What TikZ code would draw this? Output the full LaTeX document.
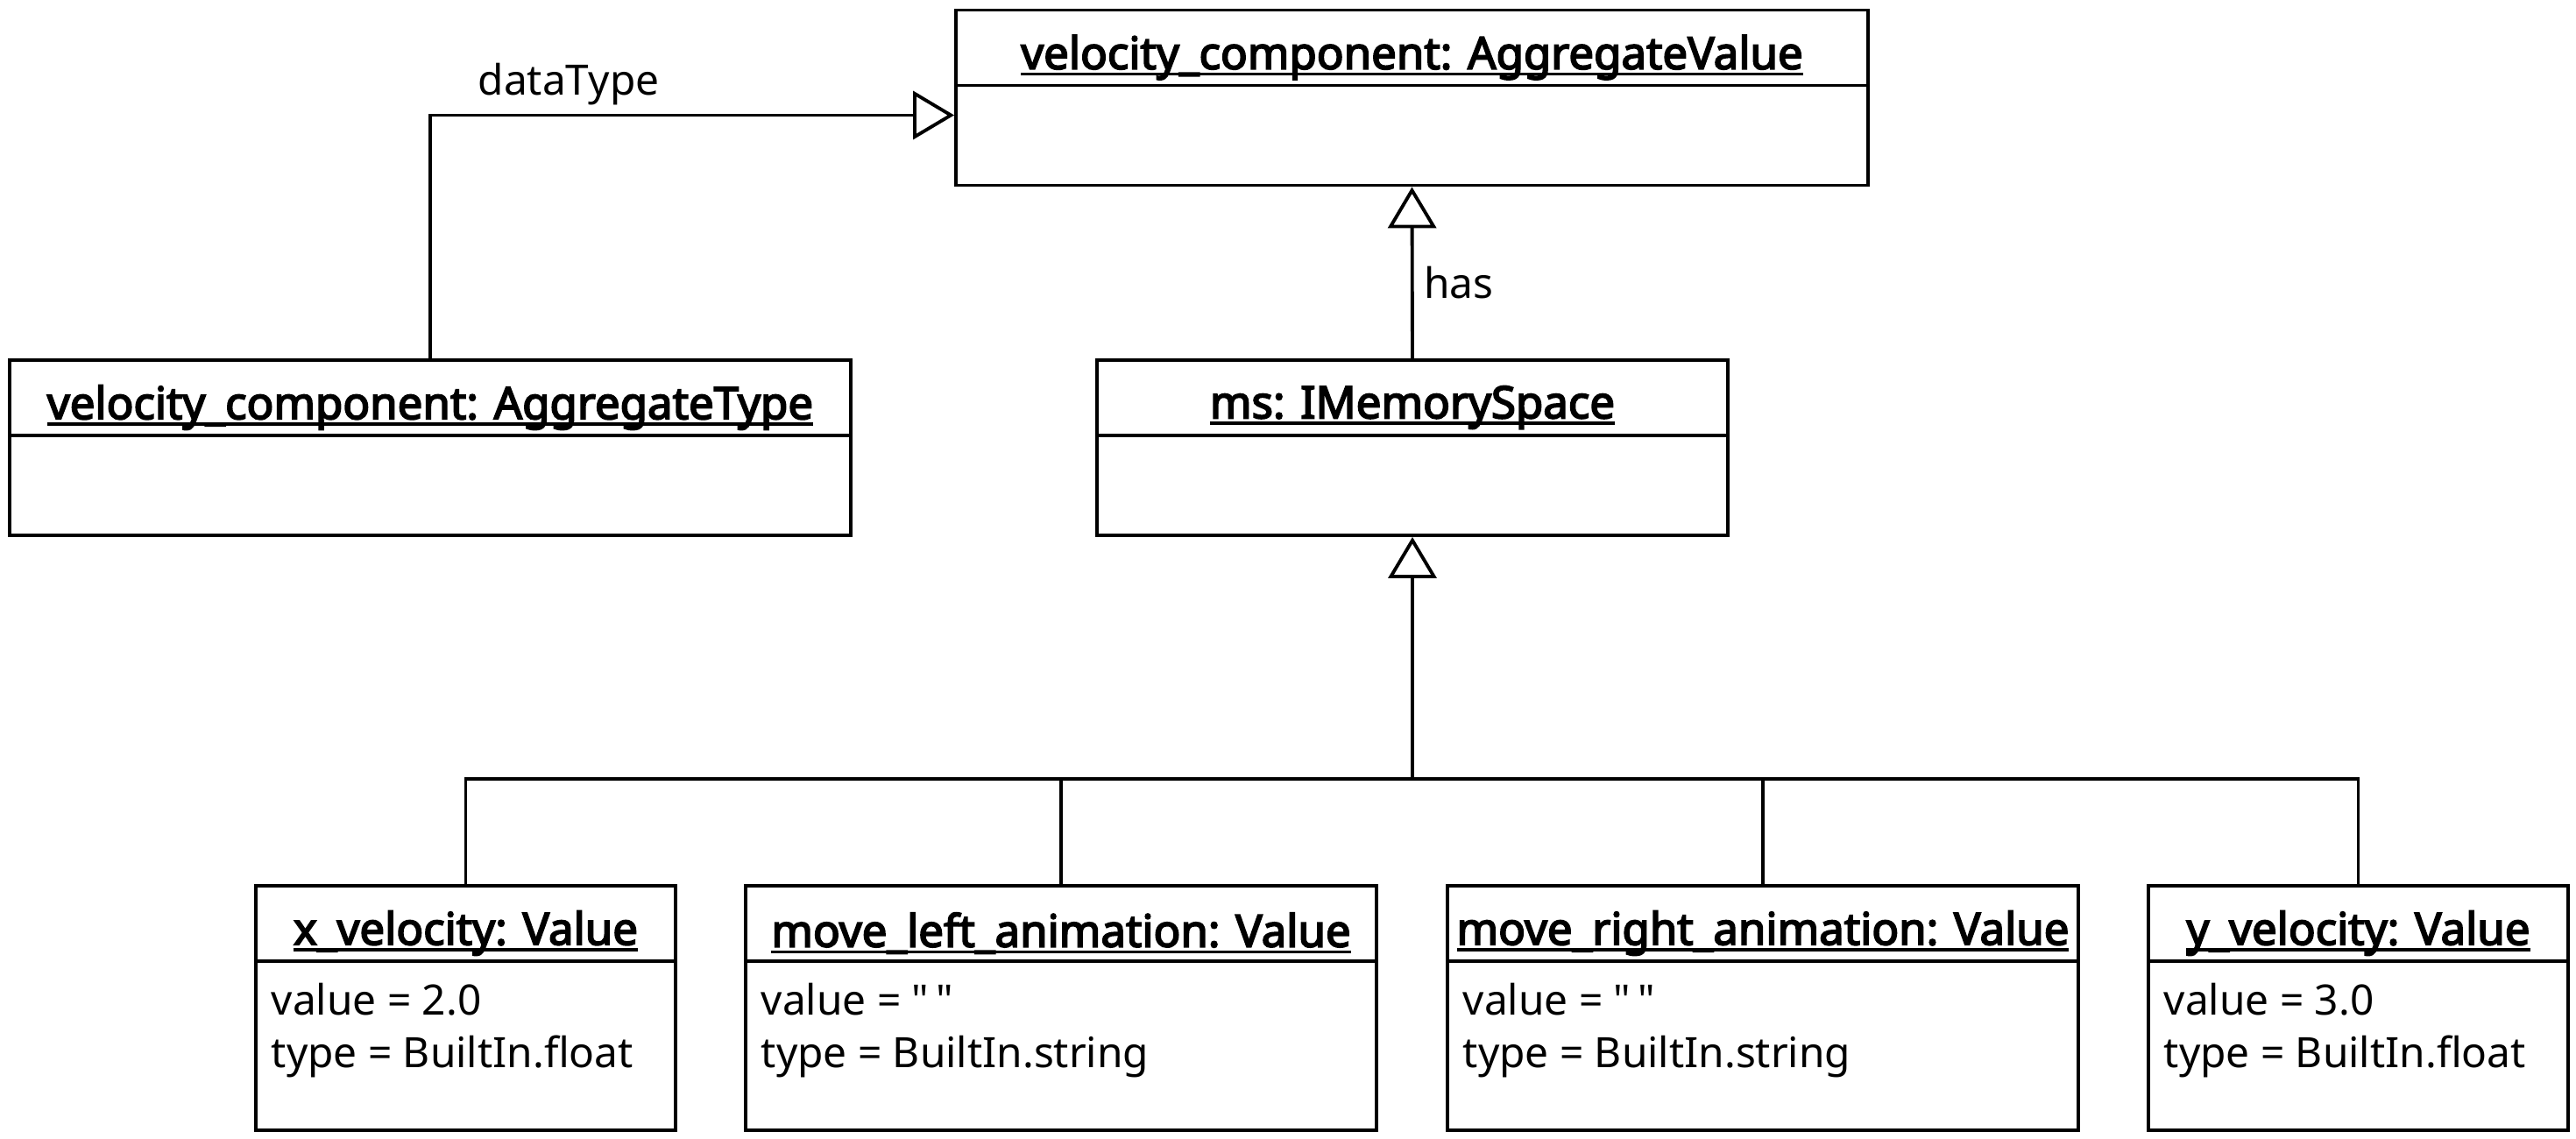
\documentclass[tikz,border=0pt]{standalone}
\usepackage{fontspec}
\setmainfont{Noto Sans}[AutoFakeBold=3.5,Ligatures=TeXOff]
\usetikzlibrary{positioning,arrows.meta}
\newcommand{\uln}[1]{\setbox0\hbox{#1}\leavevmode\rlap{\rule[-0.15em]{\wd0}{0.07em}}\box0}
\newcommand{\qq}{\symbol{34}\hspace{0.18em}\symbol{34}}
\tikzset{
  obj/.style={draw,line width=1.1pt,minimum height=2cm,inner sep=0pt},
  objname/.style={font=\fontsize{14.5}{16}\selectfont\bfseries,inner sep=0pt},
  slots/.style={font=\fontsize{13.6}{17}\selectfont,align=left,anchor=base west,inner sep=0pt},
  rel/.style={line width=1.1pt},
  inh/.style={rel,-{Triangle[open,length=4.7mm,width=5.5mm]}},
  tag/.style={font=\fontsize{13.6}{16}\selectfont,inner sep=0pt}
}

\begin{document}
\begin{tikzpicture}
    \useasboundingbox (0,0) rectangle (29.4,-13);

    % objects
    \node[obj,minimum width=10.41cm] (aval) at (16.115,-1.115) {};
    \node[objname] at ([yshift=-5.6mm]aval.north) {\uln{velocity\_component: AggregateValue}};
    \draw[rel] ([yshift=-8.8mm]aval.north west) -- ([yshift=-8.8mm]aval.north east);

    \node[obj,minimum width=9.6cm] (atype) at (4.91,-5.11) {};
    \node[objname] at ([yshift=-5.6mm]atype.north) {\uln{velocity\_component: AggregateType}};
    \draw[rel] ([yshift=-8.8mm]atype.north west) -- ([yshift=-8.8mm]atype.north east);

    \node[obj,minimum width=7.2cm] (ms) at (16.12,-5.11) {};
    \node[objname] at ([yshift=-5.6mm]ms.north) {\uln{ms: IMemorySpace}};
    \draw[rel] ([yshift=-8.8mm]ms.north west) -- ([yshift=-8.8mm]ms.north east);

    \node[obj,minimum width=4.79cm,minimum height=2.79cm] (xvel) at (5.315,-11.505) {};
    \node[objname] at ([yshift=-5.6mm]xvel.north) {\uln{x\_velocity: Value}};
    \draw[rel] ([yshift=-8.8mm]xvel.north west) -- ([yshift=-8.8mm]xvel.north east);
    \node[slots] at ([xshift=1.9mm,yshift=-20.9mm]xvel.north west) {value = 2.0\\type = BuiltIn.float};

    \node[obj,minimum width=7.2cm,minimum height=2.79cm] (mleft) at (12.11,-11.505) {};
    \node[objname] at ([yshift=-5.6mm]mleft.north) {\uln{move\_left\_animation: Value}};
    \draw[rel] ([yshift=-8.8mm]mleft.north west) -- ([yshift=-8.8mm]mleft.north east);
    \node[slots] at ([xshift=1.9mm,yshift=-20.9mm]mleft.north west) {value = \qq\\type = BuiltIn.string};

    \node[obj,minimum width=7.2cm,minimum height=2.79cm] (mright) at (20.12,-11.505) {};
    \node[objname] at ([yshift=-5.6mm]mright.north) {\uln{move\_right\_animation: Value}};
    \draw[rel] ([yshift=-8.8mm]mright.north west) -- ([yshift=-8.8mm]mright.north east);
    \node[slots] at ([xshift=1.9mm,yshift=-20.9mm]mright.north west) {value = \qq\\type = BuiltIn.string};

    \node[obj,minimum width=4.79cm,minimum height=2.79cm] (yvel) at (26.915,-11.505) {};
    \node[objname] at ([yshift=-5.6mm]yvel.north) {\uln{y\_velocity: Value}};
    \draw[rel] ([yshift=-8.8mm]yvel.north west) -- ([yshift=-8.8mm]yvel.north east);
    \node[slots] at ([xshift=1.9mm,yshift=-20.9mm]yvel.north west) {value = 3.0\\type = BuiltIn.float};

    % links
    \draw[inh] (atype.north) |- ([yshift=-2mm]aval.west);
    \node[tag] (dtlabel) at (6.49,-0.96) {dataType};
    \draw[inh] (ms.north) -- (aval.south);
    \node[tag] (haslabel) at (16.65,-3.23) {has};

    \coordinate (split) at ([yshift=1.2cm]ms.south |- xvel.north);
    \draw[inh] (split) -- (ms.south);
    \draw[rel] (xvel.north) |- (split) -| (yvel.north);
    \draw[rel] (mleft.north) -- (mleft.north |- split);
    \draw[rel] (mright.north) -- (mright.north |- split);
  \end{tikzpicture}
\end{document}
